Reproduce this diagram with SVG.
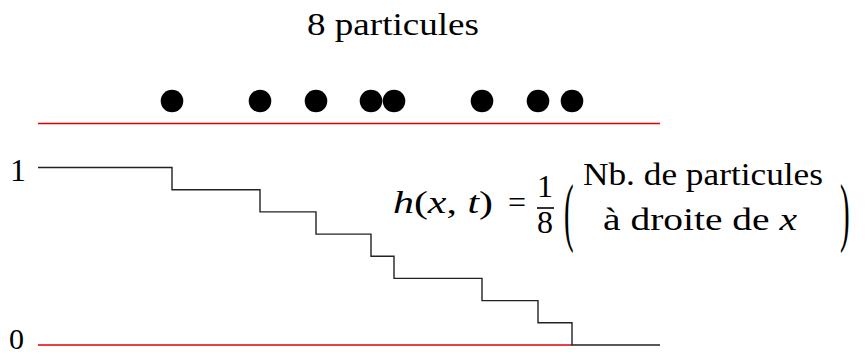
<svg xmlns="http://www.w3.org/2000/svg" width="868" height="357" viewBox="0 0 868 357" font-family="'Liberation Serif', serif">
<style>
text{font-family:"Liberation Serif",serif;fill:#000;font-size:32px}
.it{font-style:italic}
.red{stroke:#e00000;stroke-width:1.5;fill:none}
.step{stroke:#222;stroke-width:1.4;fill:none}
.dot{fill:#000}
</style>
<rect width="868" height="357" fill="#fff"/>
<g id="title"><text x="307" y="35" textLength="172" lengthAdjust="spacingAndGlyphs">8 particules</text></g>
<g id="axes">
<line class="red" x1="38" y1="123.5" x2="660" y2="123.5"/>
<line class="red" x1="38" y1="345" x2="572" y2="345"/>
<text x="10" y="181">1</text>
<text x="9" y="349" style="font-size:30px">0</text>
</g>
<g id="particles">
<circle id="p1" class="dot" cx="172" cy="101" r="11.3"/>
<circle id="p2" class="dot" cx="260" cy="101" r="11.3"/>
<circle id="p3" class="dot" cx="316" cy="101" r="11.3"/>
<circle id="p4" class="dot" cx="371" cy="101" r="11.3"/>
<circle id="p5" class="dot" cx="394" cy="101" r="11.3"/>
<circle id="p6" class="dot" cx="482" cy="101" r="11.3"/>
<circle id="p7" class="dot" cx="538" cy="101" r="11.3"/>
<circle id="p8" class="dot" cx="572" cy="101" r="11.3"/>
</g>
<g id="connectors">
<path class="step" d="M38,167.5 H172 V189.7 H260 V211.9 H316 V234.1 H371 V256.2 H394 V278.4 H482 V300.6 H538 V322.8 H572 V345 H660"/>
</g>
<g id="formula">
<text x="393" y="213" textLength="100" lengthAdjust="spacingAndGlyphs"><tspan class="it">h</tspan>(<tspan class="it">x</tspan>, <tspan class="it">t</tspan>)</text>
<text x="517" y="213" text-anchor="middle">=</text>
<text x="545" y="197" text-anchor="middle">1</text>
<line x1="537" y1="208" x2="554" y2="208" stroke="#000" stroke-width="1.6"/>
<text x="545" y="233" text-anchor="middle">8</text>
<text transform="translate(564,237) scale(1,2.6)" style="font-size:29px">(</text>
<text x="583" y="185" textLength="240" lengthAdjust="spacingAndGlyphs">Nb.  de particules</text>
<text x="603" y="230" textLength="194" lengthAdjust="spacingAndGlyphs">à droite de <tspan class="it">x</tspan></text>
<text transform="translate(840,237) scale(1,2.6)" style="font-size:29px">)</text>
</g>
</svg>
